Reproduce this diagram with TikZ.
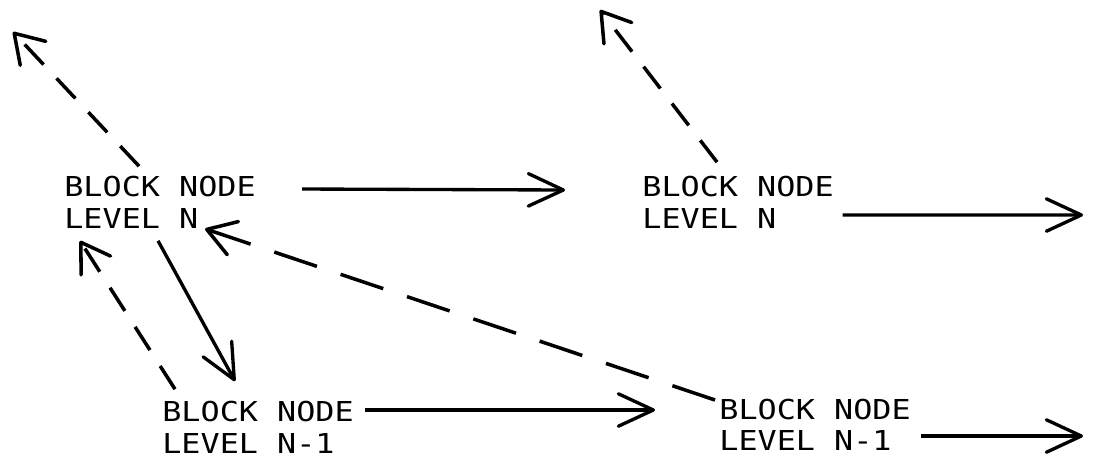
\documentclass[tikz,border=0pt]{standalone}
\usepackage{fontspec}
\newfontfamily\blockfont[FakeStretch=1.16]{DejaVu Sans Mono}
\usetikzlibrary{arrows.meta}

\begin{document}
\begin{tikzpicture}[x=0.02cm, y=-0.02cm,
    block/.style={font=\blockfont\fontsize{15.6}{18}\selectfont, align=left, inner sep=0pt, anchor=west},
    flow/.style={line width=1.9pt, -{Straight Barb[round,length=7mm,width=6.5mm]}},
    back/.style={line width=2pt, dash pattern=on 0.55cm off 0.38cm, -{Straight Barb[round,length=5.5mm,width=7mm]}}]
    \useasboundingbox (0,0) rectangle (1094,461);
    \node[block] (topA) at (64,202.5) {BLOCK NODE\\LEVEL N};
    \node[block] (topB) at (642,202.5) {BLOCK NODE\\LEVEL N};
    \node[block] (lowC) at (162,427.5) {BLOCK NODE\\LEVEL N-1};
    \node[block] (lowD) at (719,425) {BLOCK NODE\\LEVEL N-1};
    \coordinate (outB) at (1083,215);
    \coordinate (outD) at (1083,436);
    \coordinate (upA) at (13,32);
    \coordinate (upB) at (600,10);
    \draw[flow] ([shift={(46,-13.5)}]topA.east) -- ([shift={(-77,-12.5)}]topB.west);
    \draw[flow] ([shift={(8.5,12.5)}]topB.east) -- (outB);
    \draw[flow] ([shift={(11,-17.5)}]lowC.east) -- ([shift={(-64,-15)}]lowD.west);
    \draw[flow] ([shift={(9.4,11)}]lowD.east) -- (outD);
    \draw[flow] ([shift={(-2,12)}]topA.south) -- ([shift={(-23,-20)}]lowC.north);
    \draw[back] ([shift={(-21,-10)}]topA.north) -- (upA);
    \draw[back] ([shift={(-21,-14)}]topB.north) -- (upB);
    \draw[back] ([shift={(13,-12)}]lowC.north west) -- ([shift={(16,12)}]topA.south west);
    \draw[back, dash pattern=on 0.9cm off 0.5cm] ([shift={(-4,-25)}]lowD.west) -- ([shift={(-51,0)}]topA.south east);
\end{tikzpicture}
\end{document}
